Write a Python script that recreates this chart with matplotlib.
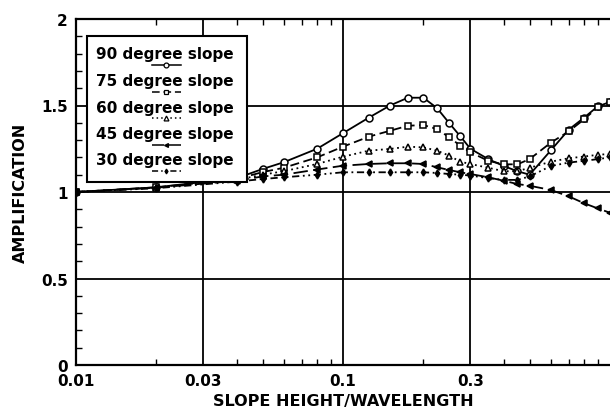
import matplotlib
matplotlib.use("Agg")
import matplotlib.pyplot as plt
from matplotlib.lines import Line2D
from matplotlib.patches import Rectangle
from matplotlib.ticker import FixedLocator, NullFormatter, MultipleLocator

# slope height / wavelength
x = [0.01, 0.02, 0.04, 0.05, 0.06, 0.08, 0.1, 0.125, 0.15, 0.175, 0.2, 0.225,
     0.25, 0.275, 0.3, 0.35, 0.4, 0.45, 0.5, 0.6, 0.7, 0.8, 0.9, 1.0]

# amplification for each slope angle
a90 = [1.0, 1.027, 1.08, 1.133, 1.172, 1.25, 1.34, 1.43, 1.50, 1.545, 1.545, 1.485,
       1.398, 1.322, 1.25, 1.19, 1.15, 1.12, 1.10, 1.24, 1.36, 1.43, 1.495, 1.52]
a75 = [1.0, 1.027, 1.075, 1.115, 1.14, 1.2, 1.262, 1.32, 1.354, 1.383, 1.387, 1.364,
       1.316, 1.268, 1.23, 1.18, 1.16, 1.16, 1.19, 1.285, 1.35, 1.42, 1.49, 1.52]
a60 = [1.0, 1.025, 1.07, 1.10, 1.12, 1.162, 1.204, 1.239, 1.249, 1.262, 1.258, 1.239,
       1.21, 1.175, 1.162, 1.14, 1.12, 1.12, 1.14, 1.175, 1.195, 1.205, 1.215, 1.22]
a45 = [1.0, 1.025, 1.065, 1.09, 1.10, 1.13, 1.152, 1.162, 1.166, 1.166, 1.162, 1.143,
       1.127, 1.114, 1.104, 1.085, 1.065, 1.046, 1.036, 1.012, 0.975, 0.935, 0.905, 0.88]
a30 = [1.0, 1.022, 1.06, 1.075, 1.085, 1.10, 1.114, 1.114, 1.114, 1.114, 1.114, 1.11,
       1.104, 1.10, 1.095, 1.08, 1.07, 1.07, 1.09, 1.15, 1.17, 1.18, 1.19, 1.20]

labels = ["90 degree slope", "75 degree slope", "60 degree slope",
          "45 degree slope", "30 degree slope"]
xticks = [0.01, 0.03, 0.1, 0.3]
xtick_labels = ["0.01", "0.03", "0.1", "0.3"]
yticks = [0, 0.5, 1, 1.5, 2]
ytick_labels = ["0", "0.5", "1", "1.5", "2"]

styles = [
    dict(ls="-", marker="o", mfc="white", ms=5),
    dict(ls=(0, (5, 2.5)), marker="s", mfc="white", ms=4.5),
    dict(ls=(0, (1, 2)), marker="^", mfc="white", ms=5),
    dict(ls=(0, (8, 3)), marker="<", mfc="black", ms=4),
    dict(ls=(0, (4, 2, 1, 2, 1, 2)), marker="d", mfc="black", ms=3.5),
]

W, H = 610, 414
fig = plt.figure(figsize=(W / 100, H / 100), dpi=100)
ax = fig.add_axes([76 / W, 1 - 366 / H, 1 - 76 / W, (366 - 20) / H])

for ys, st in zip([a90, a75, a60, a45, a30], styles):
    ax.plot(x, ys, color="black", lw=1.3, mec="black", mew=1.1, **st)

ax.set_xscale("log")
ax.set_xlim(0.01, 1.0)
ax.set_ylim(0, 2)

ax.xaxis.set_major_locator(FixedLocator(xticks))
ax.set_xticklabels(xtick_labels)
ax.xaxis.set_minor_locator(FixedLocator([0.02, 0.04, 0.05, 0.06, 0.07, 0.08, 0.09,
                                         0.2, 0.4, 0.5, 0.6, 0.7, 0.8, 0.9]))
ax.xaxis.set_minor_formatter(NullFormatter())
ax.set_yticks(yticks)
ax.set_yticklabels(ytick_labels)
ax.yaxis.set_minor_locator(MultipleLocator(0.1))

ax.tick_params(which="both", direction="in", top=True, right=False, color="black")
ax.tick_params(which="major", length=0, labelsize=11, pad=6)
ax.tick_params(which="minor", length=4, width=1)
for lab in ax.get_xticklabels() + ax.get_yticklabels():
    lab.set_fontweight("bold")

ax.grid(True, which="major", color="black", lw=1.3)
for side in ["left", "bottom", "top"]:
    ax.spines[side].set_linewidth(1.6)
ax.spines["right"].set_visible(False)

ax.set_xlabel("SLOPE HEIGHT/WAVELENGTH", fontsize=11.5, fontweight="bold")
ax.xaxis.set_label_coords(0.5, -0.08)
ax.set_ylabel("AMPLIFICATION", fontsize=11.5, fontweight="bold")
ax.yaxis.set_label_coords(-0.09, 0.5)

# legend box, samples sit under the text as in the original
def fx(px):
    return px / W

def fy(py):
    return 1 - py / H

fig.add_artist(Rectangle((fx(87), fy(183)), fx(247) - fx(87), fy(37) - fy(183),
                         transform=fig.transFigure, facecolor="white",
                         edgecolor="black", lw=1.5, zorder=3))
rows = [55, 81.5, 108, 134.5, 161]
for lab, st, yc in zip(labels, styles, rows):
    ln = Line2D([fx(152), fx(166), fx(181)], [fy(yc + 11)] * 3,
                transform=fig.transFigure, color="black", lw=1.1,
                mec="black", mew=0.9, markevery=[1], zorder=4,
                **{**st, "ms": st["ms"] * 0.7})
    fig.add_artist(ln)
    fig.text(fx(96), fy(yc), lab, fontsize=11, fontweight="bold",
             va="center", ha="left", zorder=5)

fig.savefig("out.png", dpi=100)
